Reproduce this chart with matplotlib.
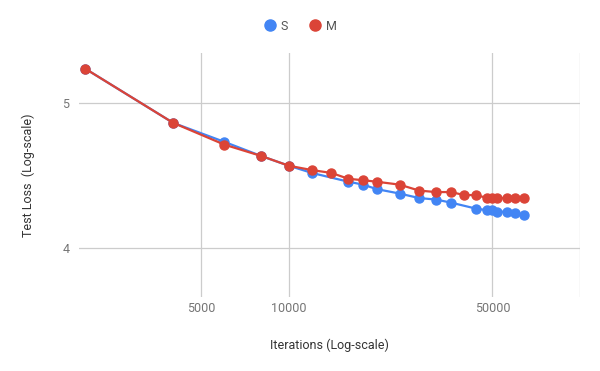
import numpy as np
import matplotlib.pyplot as plt
from matplotlib.lines import Line2D

plt.rcParams["font.family"] = ["Roboto", "DejaVu Sans"]

# iterations / test loss
s_iters = [2000, 4000, 6000, 8000, 10000, 12000, 16000, 18000, 20000, 24000,
           28000, 32000, 36000, 44000, 48000, 50000, 52000, 56000, 60000, 64000]
s_loss = [5.27, 4.85, 4.71, 4.61, 4.54, 4.49, 4.43, 4.41, 4.38, 4.35,
          4.32, 4.31, 4.29, 4.25, 4.24, 4.24, 4.23, 4.23, 4.22, 4.21]

m_iters = [2000, 4000, 6000, 8000, 10000, 12000, 14000, 16000, 18000, 20000,
           24000, 28000, 32000, 36000, 40000, 44000, 48000, 50000, 52000,
           56000, 60000, 64000]
m_loss = [5.27, 4.85, 4.69, 4.61, 4.54, 4.51, 4.49, 4.45, 4.44, 4.43,
          4.41, 4.37, 4.36, 4.36, 4.34, 4.34, 4.32, 4.32, 4.32,
          4.32, 4.32, 4.32]

x_ticks = [5000, 10000, 50000, 100000]
x_labels = ["5000", "10000", "50000", ""]
y_ticks = [4, 5]

blue = "#4285F4"
red = "#DB4437"
grid_c = "#cccccc"
tick_c = "#757575"

fig = plt.figure(figsize=(6, 3.71), dpi=100)
ax = fig.add_axes([79 / 600, 74 / 371, 501 / 600, 244 / 371])

ax.plot(s_iters, s_loss, color=blue, lw=1.6, marker="o", ms=6.5, zorder=3)
ax.plot(m_iters, m_loss, color=red, lw=1.6, marker="o", ms=6.5, zorder=4)

ax.set_xscale("log")
ax.set_yscale("log")
ax.set_xlim(1900, 100000)
ax.set_ylim(3.71, 5.40)

ax.set_xticks(x_ticks)
ax.set_xticklabels(x_labels)
ax.xaxis.set_minor_locator(plt.NullLocator())
ax.set_yticks(y_ticks)
ax.set_yticklabels([str(v) for v in y_ticks])
ax.yaxis.set_minor_locator(plt.NullLocator())

ax.tick_params(length=0, labelsize=9, colors=tick_c)
ax.tick_params(axis="x", pad=3.5)
ax.tick_params(axis="y", pad=7)
ax.grid(True, color=grid_c, lw=0.9)
ax.set_axisbelow(True)
for sp in ax.spines.values():
    sp.set_visible(False)

ax.set_xlabel("Iterations (Log-scale)", fontsize=9, color="#333333", labelpad=17)
ax.set_ylabel("Test Loss  (Log-scale)", fontsize=9, color="#333333", labelpad=19.5)

handles = [
    Line2D([], [], color=blue, marker="o", ls="", ms=8),
    Line2D([], [], color=red, marker="o", ls="", ms=8),
]
fig.legend(handles, ["S", "M"], loc="center", bbox_to_anchor=(0.5, 1 - 26 / 371),
           ncol=2, frameon=False, fontsize=9, labelcolor="#555555",
           handletextpad=0.4, columnspacing=1.6, handlelength=1)

fig.savefig("out.png", dpi=100)
